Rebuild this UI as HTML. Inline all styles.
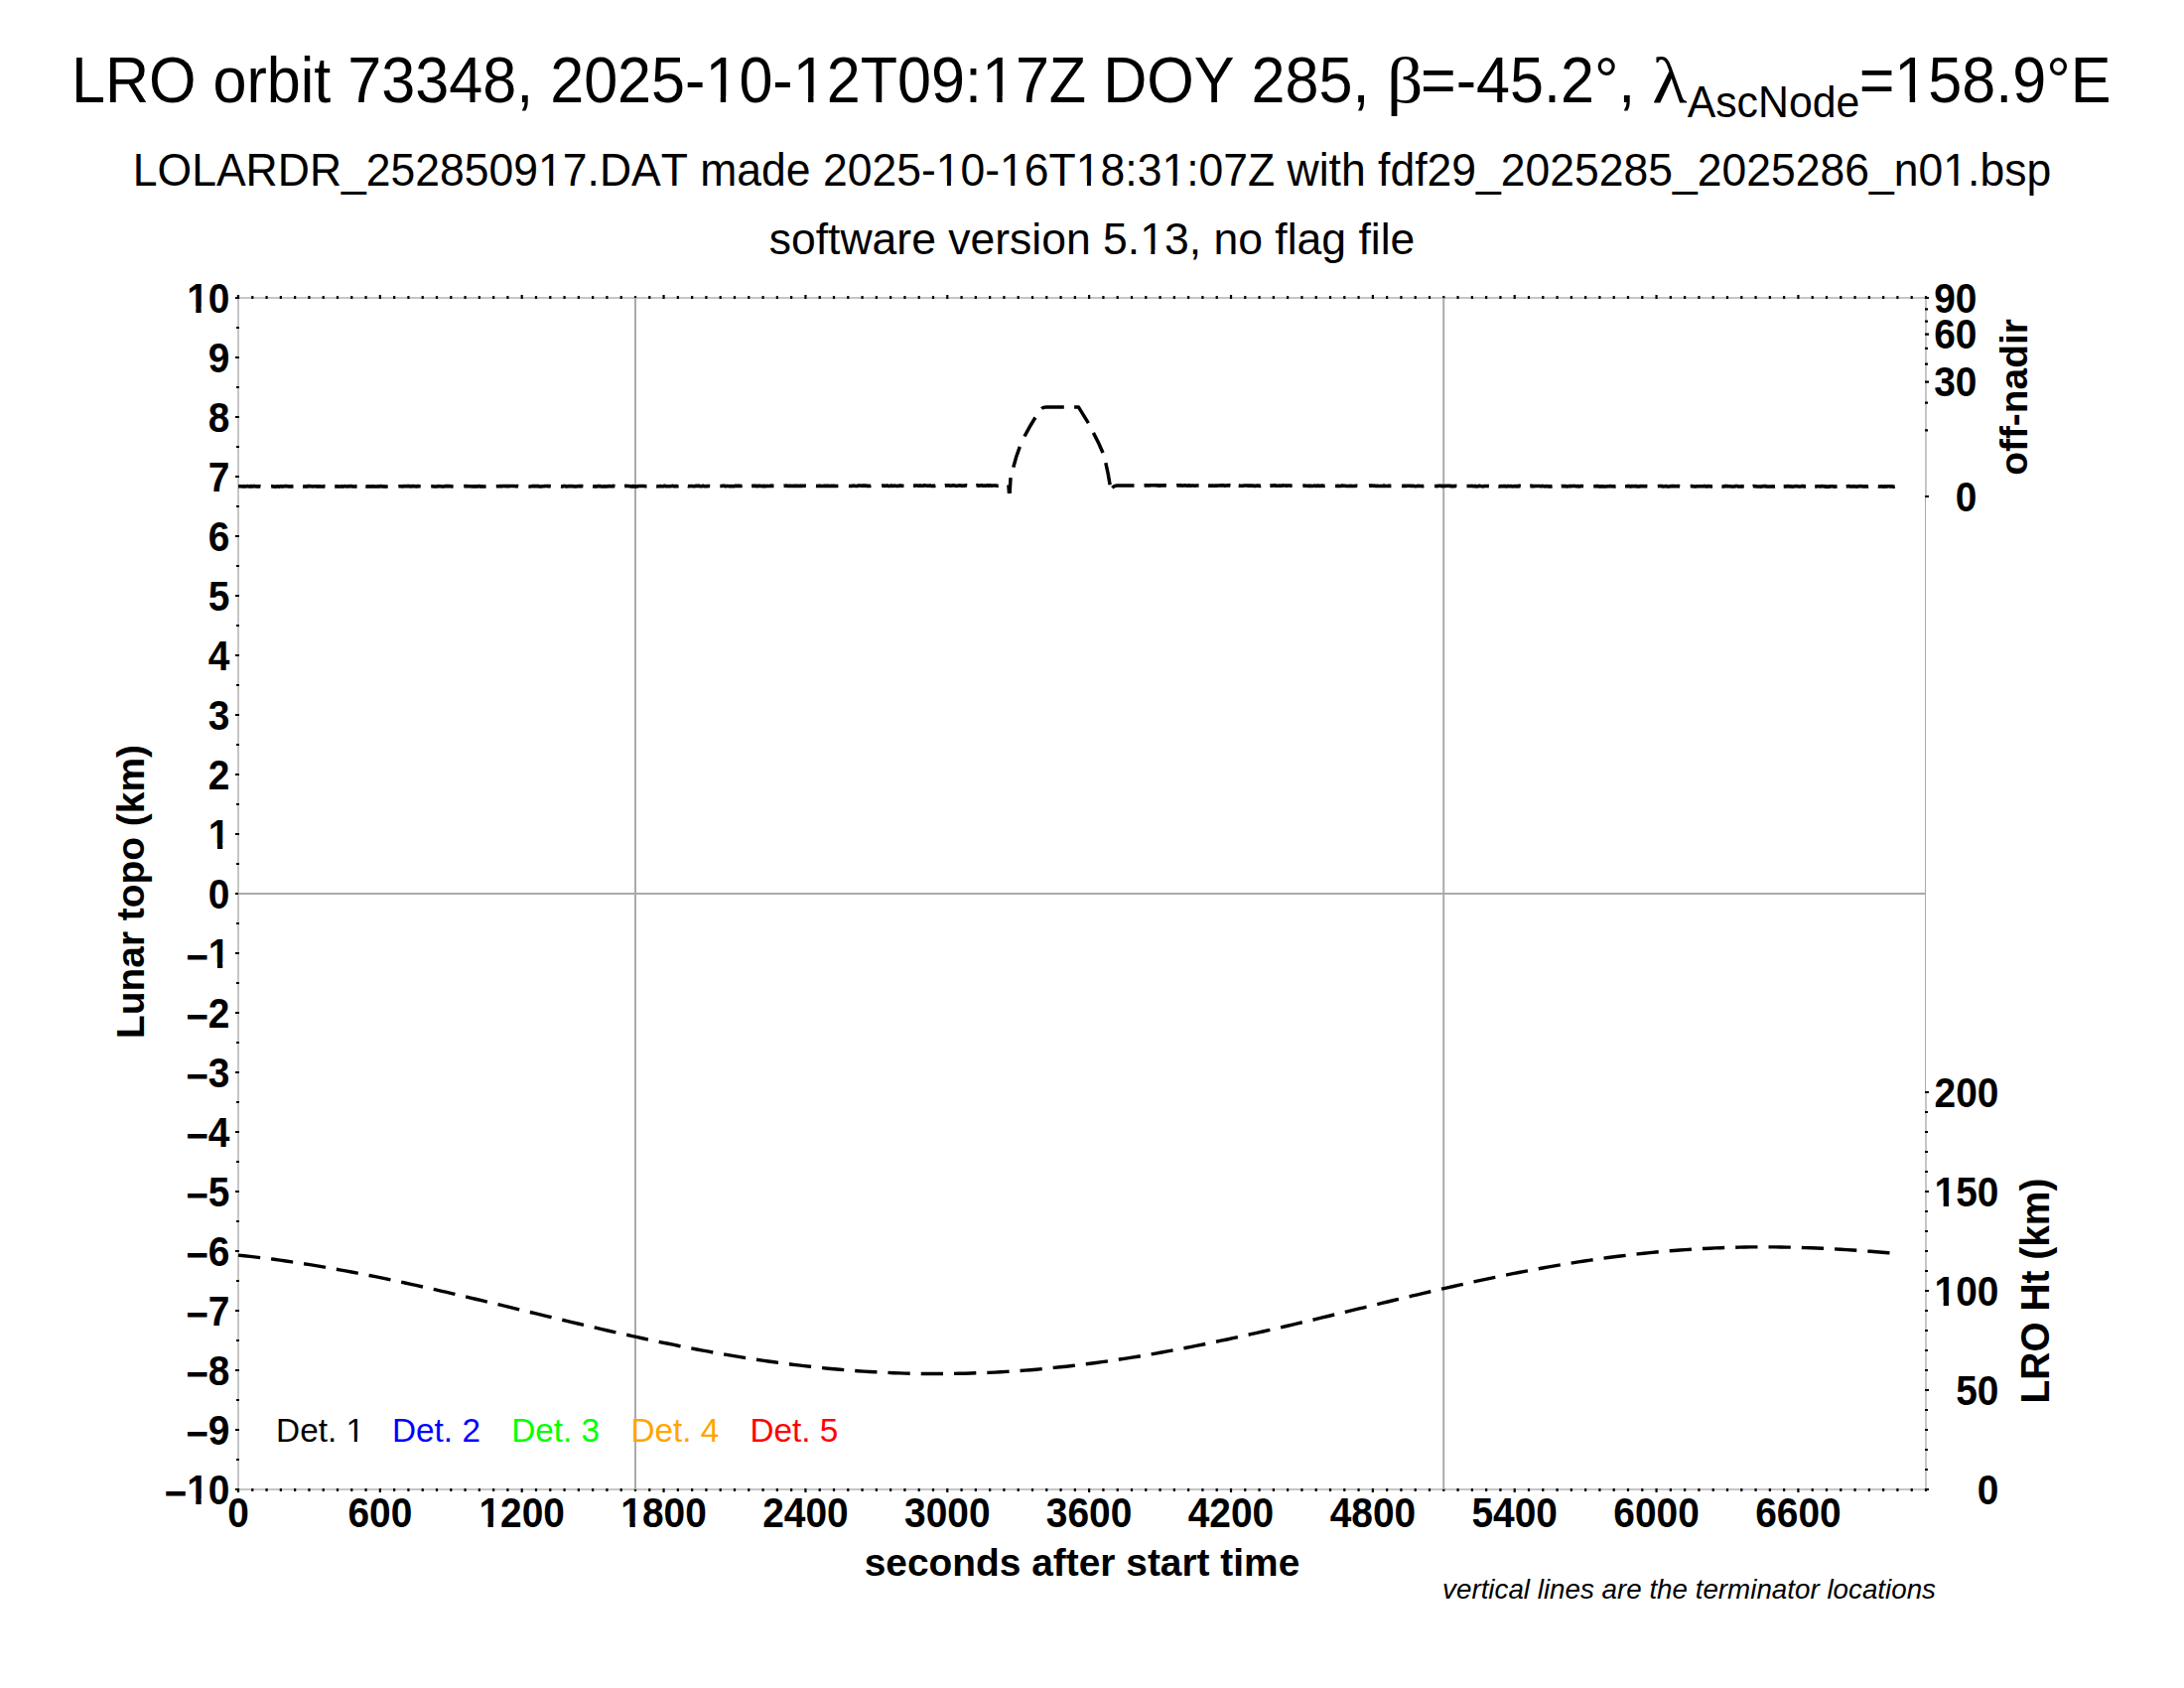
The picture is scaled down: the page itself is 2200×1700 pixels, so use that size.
<!DOCTYPE html>
<html lang="en"><head><meta charset="utf-8"><title>LRO orbit 73348</title>
<style>html,body{margin:0;padding:0;background:#fff;width:2200px;height:1700px;overflow:hidden}svg{display:block}text{font-family:"Liberation Sans",sans-serif;fill:#000;font-kerning:none;font-variant-ligatures:none}.b{font-weight:700;font-size:38.89px}.sym{font-family:"Liberation Serif","DejaVu Serif",serif}</style></head><body>
<svg width="2200" height="1700" viewBox="0 0 2200 1700">
<rect width="2200" height="1700" fill="#fff"/>
<g id="titles">
<g transform="translate(0 103) scale(1 1.05)" font-size="61.11">
<text x="71.9" y="0" xml:space="preserve">LRO orbit 73348, 2025-10-12T09:17Z DOY 285, </text>
<text class="sym" transform="translate(1397 0) scale(1.10 0.9524)" font-size="65">β</text>
<text x="1431" y="0" xml:space="preserve">=-45.2°, </text>
<text class="sym" transform="translate(1664.3 0) scale(1.10 0.9524)" font-size="66">λ</text>
<text x="1699.7" y="14.29" font-size="42.78">AscNode</text>
<text x="1872.7" y="0">=158.9°E</text>
</g>
<text transform="translate(1100 187.2) scale(1 1.045)" font-size="44.51" text-anchor="middle">LOLARDR_252850917.DAT made 2025-10-16T18:31:07Z with fdf29_2025285_2025286_n01.bsp</text>
<text x="1100" y="256" font-size="44.5" text-anchor="middle">software version 5.13, no flag file</text>
</g>
<g id="frame" stroke="#c6c6c6" stroke-width="2" fill="none">
<path d="M1941 300H240V1500H1941"/>
<line x1="1940" y1="300" x2="1940" y2="500"/>
<line x1="1940" y1="1100" x2="1940" y2="1500"/>
</g>
<line x1="1939.5" y1="500" x2="1939.5" y2="1100" stroke="#aaaaaa" stroke-width="1"/>
<path id="ticks" d="M240.00 1499V1503.0M240.00 301V297.0M254.29 1499V1502.0M254.29 301V298.0M268.57 1499V1502.0M268.57 301V298.0M282.86 1499V1502.0M282.86 301V298.0M297.14 1499V1502.0M297.14 301V298.0M311.43 1499V1502.0M311.43 301V298.0M325.71 1499V1502.0M325.71 301V298.0M340.00 1499V1502.0M340.00 301V298.0M354.29 1499V1502.0M354.29 301V298.0M368.57 1499V1502.0M368.57 301V298.0M382.86 1499V1503.0M382.86 301V297.0M397.14 1499V1502.0M397.14 301V298.0M411.43 1499V1502.0M411.43 301V298.0M425.71 1499V1502.0M425.71 301V298.0M440.00 1499V1502.0M440.00 301V298.0M454.29 1499V1502.0M454.29 301V298.0M468.57 1499V1502.0M468.57 301V298.0M482.86 1499V1502.0M482.86 301V298.0M497.14 1499V1502.0M497.14 301V298.0M511.43 1499V1502.0M511.43 301V298.0M525.71 1499V1503.0M525.71 301V297.0M540.00 1499V1502.0M540.00 301V298.0M554.29 1499V1502.0M554.29 301V298.0M568.57 1499V1502.0M568.57 301V298.0M582.86 1499V1502.0M582.86 301V298.0M597.14 1499V1502.0M597.14 301V298.0M611.43 1499V1502.0M611.43 301V298.0M625.71 1499V1502.0M625.71 301V298.0M640.00 1499V1502.0M640.00 301V298.0M654.29 1499V1502.0M654.29 301V298.0M668.57 1499V1503.0M668.57 301V297.0M682.86 1499V1502.0M682.86 301V298.0M697.14 1499V1502.0M697.14 301V298.0M711.43 1499V1502.0M711.43 301V298.0M725.71 1499V1502.0M725.71 301V298.0M740.00 1499V1502.0M740.00 301V298.0M754.29 1499V1502.0M754.29 301V298.0M768.57 1499V1502.0M768.57 301V298.0M782.86 1499V1502.0M782.86 301V298.0M797.14 1499V1502.0M797.14 301V298.0M811.43 1499V1503.0M811.43 301V297.0M825.71 1499V1502.0M825.71 301V298.0M840.00 1499V1502.0M840.00 301V298.0M854.29 1499V1502.0M854.29 301V298.0M868.57 1499V1502.0M868.57 301V298.0M882.86 1499V1502.0M882.86 301V298.0M897.14 1499V1502.0M897.14 301V298.0M911.43 1499V1502.0M911.43 301V298.0M925.71 1499V1502.0M925.71 301V298.0M940.00 1499V1502.0M940.00 301V298.0M954.29 1499V1503.0M954.29 301V297.0M968.57 1499V1502.0M968.57 301V298.0M982.86 1499V1502.0M982.86 301V298.0M997.14 1499V1502.0M997.14 301V298.0M1011.43 1499V1502.0M1011.43 301V298.0M1025.71 1499V1502.0M1025.71 301V298.0M1040.00 1499V1502.0M1040.00 301V298.0M1054.29 1499V1502.0M1054.29 301V298.0M1068.57 1499V1502.0M1068.57 301V298.0M1082.86 1499V1502.0M1082.86 301V298.0M1097.14 1499V1503.0M1097.14 301V297.0M1111.43 1499V1502.0M1111.43 301V298.0M1125.71 1499V1502.0M1125.71 301V298.0M1140.00 1499V1502.0M1140.00 301V298.0M1154.29 1499V1502.0M1154.29 301V298.0M1168.57 1499V1502.0M1168.57 301V298.0M1182.86 1499V1502.0M1182.86 301V298.0M1197.14 1499V1502.0M1197.14 301V298.0M1211.43 1499V1502.0M1211.43 301V298.0M1225.71 1499V1502.0M1225.71 301V298.0M1240.00 1499V1503.0M1240.00 301V297.0M1254.29 1499V1502.0M1254.29 301V298.0M1268.57 1499V1502.0M1268.57 301V298.0M1282.86 1499V1502.0M1282.86 301V298.0M1297.14 1499V1502.0M1297.14 301V298.0M1311.43 1499V1502.0M1311.43 301V298.0M1325.71 1499V1502.0M1325.71 301V298.0M1340.00 1499V1502.0M1340.00 301V298.0M1354.29 1499V1502.0M1354.29 301V298.0M1368.57 1499V1502.0M1368.57 301V298.0M1382.86 1499V1503.0M1382.86 301V297.0M1397.14 1499V1502.0M1397.14 301V298.0M1411.43 1499V1502.0M1411.43 301V298.0M1425.71 1499V1502.0M1425.71 301V298.0M1440.00 1499V1502.0M1440.00 301V298.0M1454.29 1499V1502.0M1454.29 301V298.0M1468.57 1499V1502.0M1468.57 301V298.0M1482.86 1499V1502.0M1482.86 301V298.0M1497.14 1499V1502.0M1497.14 301V298.0M1511.43 1499V1502.0M1511.43 301V298.0M1525.71 1499V1503.0M1525.71 301V297.0M1540.00 1499V1502.0M1540.00 301V298.0M1554.29 1499V1502.0M1554.29 301V298.0M1568.57 1499V1502.0M1568.57 301V298.0M1582.86 1499V1502.0M1582.86 301V298.0M1597.14 1499V1502.0M1597.14 301V298.0M1611.43 1499V1502.0M1611.43 301V298.0M1625.71 1499V1502.0M1625.71 301V298.0M1640.00 1499V1502.0M1640.00 301V298.0M1654.29 1499V1502.0M1654.29 301V298.0M1668.57 1499V1503.0M1668.57 301V297.0M1682.86 1499V1502.0M1682.86 301V298.0M1697.14 1499V1502.0M1697.14 301V298.0M1711.43 1499V1502.0M1711.43 301V298.0M1725.71 1499V1502.0M1725.71 301V298.0M1740.00 1499V1502.0M1740.00 301V298.0M1754.29 1499V1502.0M1754.29 301V298.0M1768.57 1499V1502.0M1768.57 301V298.0M1782.86 1499V1502.0M1782.86 301V298.0M1797.14 1499V1502.0M1797.14 301V298.0M1811.43 1499V1503.0M1811.43 301V297.0M1825.71 1499V1502.0M1825.71 301V298.0M1840.00 1499V1502.0M1840.00 301V298.0M1854.29 1499V1502.0M1854.29 301V298.0M1868.57 1499V1502.0M1868.57 301V298.0M1882.86 1499V1502.0M1882.86 301V298.0M1897.14 1499V1502.0M1897.14 301V298.0M1911.43 1499V1502.0M1911.43 301V298.0M1925.71 1499V1502.0M1925.71 301V298.0M1940.00 1499V1502.0M1940.00 301V298.0M241 300H237.00M241 330H238.00M241 360H237.00M241 390H238.00M241 420H237.00M241 450H238.00M241 480H237.00M241 510H238.00M241 540H237.00M241 570H238.00M241 600H237.00M241 630H238.00M241 660H237.00M241 690H238.00M241 720H237.00M241 750H238.00M241 780H237.00M241 810H238.00M241 840H237.00M241 870H238.00M241 900H237.00M241 930H238.00M241 960H237.00M241 990H238.00M241 1020H237.00M241 1050H238.00M241 1080H237.00M241 1110H238.00M241 1140H237.00M241 1170H238.00M241 1200H237.00M241 1230H238.00M241 1260H237.00M241 1290H238.00M241 1320H237.00M241 1350H238.00M241 1380H237.00M241 1410H238.00M241 1440H237.00M241 1470H238.00M241 1500H237.00M1939 1500H1943.0M1939 1480H1942.0M1939 1460H1942.0M1939 1440H1942.0M1939 1420H1942.0M1939 1400H1943.0M1939 1380H1942.0M1939 1360H1942.0M1939 1340H1942.0M1939 1320H1942.0M1939 1300H1943.0M1939 1280H1942.0M1939 1260H1942.0M1939 1240H1942.0M1939 1220H1942.0M1939 1200H1943.0M1939 1180H1942.0M1939 1160H1942.0M1939 1140H1942.0M1939 1120H1942.0M1939 1100H1943.0M1939 500.00H1943.0M1939 433.33H1942.0M1939 405.72H1942.0M1939 384.53H1943.0M1939 366.67H1942.0M1939 350.93H1942.0M1939 336.70H1943.0M1939 323.62H1942.0M1939 311.44H1942.0M1939 300.00H1943.0" stroke="#000" stroke-width="2.2" fill="none"/>
<g id="grid" stroke="#aaaaaa" stroke-width="2" fill="none">
<line x1="640" y1="300" x2="640" y2="1500"/>
<line x1="1454.2" y1="300" x2="1454.2" y2="1500"/>
<line x1="240" y1="900" x2="1940" y2="900"/>
</g>
<g id="ylabels" class="b" text-anchor="end">
<text transform="translate(231.5 314.6) scale(1 1.08)">10</text>
<text transform="translate(231.5 374.6) scale(1 1.08)">9</text>
<text transform="translate(231.5 434.6) scale(1 1.08)">8</text>
<text transform="translate(231.5 494.6) scale(1 1.08)">7</text>
<text transform="translate(231.5 554.6) scale(1 1.08)">6</text>
<text transform="translate(231.5 614.6) scale(1 1.08)">5</text>
<text transform="translate(231.5 674.6) scale(1 1.08)">4</text>
<text transform="translate(231.5 734.6) scale(1 1.08)">3</text>
<text transform="translate(231.5 794.6) scale(1 1.08)">2</text>
<text transform="translate(231.5 854.6) scale(1 1.08)">1</text>
<text transform="translate(231.5 914.6) scale(1 1.08)">0</text>
<text transform="translate(231.5 974.6) scale(1 1.08)"><tspan dy="3.2">−</tspan><tspan dy="-3.2">1</tspan></text>
<text transform="translate(231.5 1034.6) scale(1 1.08)"><tspan dy="3.2">−</tspan><tspan dy="-3.2">2</tspan></text>
<text transform="translate(231.5 1094.6) scale(1 1.08)"><tspan dy="3.2">−</tspan><tspan dy="-3.2">3</tspan></text>
<text transform="translate(231.5 1154.6) scale(1 1.08)"><tspan dy="3.2">−</tspan><tspan dy="-3.2">4</tspan></text>
<text transform="translate(231.5 1214.6) scale(1 1.08)"><tspan dy="3.2">−</tspan><tspan dy="-3.2">5</tspan></text>
<text transform="translate(231.5 1274.6) scale(1 1.08)"><tspan dy="3.2">−</tspan><tspan dy="-3.2">6</tspan></text>
<text transform="translate(231.5 1334.6) scale(1 1.08)"><tspan dy="3.2">−</tspan><tspan dy="-3.2">7</tspan></text>
<text transform="translate(231.5 1394.6) scale(1 1.08)"><tspan dy="3.2">−</tspan><tspan dy="-3.2">8</tspan></text>
<text transform="translate(231.5 1454.6) scale(1 1.08)"><tspan dy="3.2">−</tspan><tspan dy="-3.2">9</tspan></text>
<text transform="translate(231.5 1514.6) scale(1 1.08)"><tspan dy="3.2">−</tspan><tspan dy="-3.2">10</tspan></text>
</g>
<g id="xlabels" class="b" text-anchor="middle">
<text transform="translate(240.0 1537.5) scale(1 1.08)">0</text>
<text transform="translate(382.9 1537.5) scale(1 1.08)">600</text>
<text transform="translate(525.7 1537.5) scale(1 1.08)">1200</text>
<text transform="translate(668.6 1537.5) scale(1 1.08)">1800</text>
<text transform="translate(811.4 1537.5) scale(1 1.08)">2400</text>
<text transform="translate(954.3 1537.5) scale(1 1.08)">3000</text>
<text transform="translate(1097.1 1537.5) scale(1 1.08)">3600</text>
<text transform="translate(1240.0 1537.5) scale(1 1.08)">4200</text>
<text transform="translate(1382.9 1537.5) scale(1 1.08)">4800</text>
<text transform="translate(1525.7 1537.5) scale(1 1.08)">5400</text>
<text transform="translate(1668.6 1537.5) scale(1 1.08)">6000</text>
<text transform="translate(1811.4 1537.5) scale(1 1.08)">6600</text>
</g>
<g id="rlabels" class="b" text-anchor="end">
<text transform="translate(2013.5 1514.6) scale(1 1.08)">0</text>
<text transform="translate(2013.5 1414.6) scale(1 1.08)">50</text>
<text transform="translate(2013.5 1314.6) scale(1 1.08)">100</text>
<text transform="translate(2013.5 1214.6) scale(1 1.08)">150</text>
<text transform="translate(2013.5 1114.6) scale(1 1.08)">200</text>
<text transform="translate(1991.5 514.6) scale(1 1.08)">0</text>
<text transform="translate(1991.5 399.1) scale(1 1.08)">30</text>
<text transform="translate(1991.5 351.3) scale(1 1.08)">60</text>
<text transform="translate(1991.5 314.6) scale(1 1.08)">90</text>
</g>
<g id="axlabels" class="b" text-anchor="middle">
<text x="1090" y="1587.4">seconds after start time</text>
<text transform="translate(145 898) rotate(-90)">Lunar topo (km)</text>
<text transform="translate(2064.2 1300) rotate(-90) scale(1 1.05)">LRO Ht (km)</text>
<text transform="translate(2042 400) rotate(-90)">off-nadir</text>
</g>
<text x="1950" y="1609.8" font-size="27.78" font-style="italic" text-anchor="end">vertical lines are the terminator locations</text>
<g id="legend" font-size="33.33">
<text x="278.1" y="1452.3" style="fill:#000000">Det. 1</text>
<text x="395.0" y="1452.3" style="fill:#0000ff">Det. 2</text>
<text x="515.2" y="1452.3" style="fill:#00ff00">Det. 3</text>
<text x="635.4" y="1452.3" style="fill:#ffa500">Det. 4</text>
<text x="755.4" y="1452.3" style="fill:#ff0000">Det. 5</text>
</g>
<path id="ht" d="M240.0 1264.1 L246.0 1264.7 L252.0 1265.4 L258.0 1266.1 L264.0 1266.8 L270.0 1267.5 L276.0 1268.3 L282.0 1269.1 L288.0 1270.0 L294.0 1270.9 L300.0 1271.8 L306.0 1272.7 L312.0 1273.6 L318.0 1274.6 L324.0 1275.6 L330.0 1276.7 L336.0 1277.7 L342.0 1278.8 L348.0 1279.9 L354.0 1281.0 L360.0 1282.2 L366.0 1283.3 L372.0 1284.5 L378.0 1285.7 L384.0 1286.9 L390.0 1288.2 L396.0 1289.4 L402.0 1290.7 L408.0 1292.0 L414.0 1293.3 L420.0 1294.6 L426.0 1296.0 L432.0 1297.3 L438.0 1298.7 L444.0 1300.1 L450.0 1301.4 L456.0 1302.8 L462.0 1304.2 L468.0 1305.6 L474.0 1307.1 L480.0 1308.5 L486.0 1309.9 L492.0 1311.4 L498.0 1312.8 L504.0 1314.2 L510.0 1315.7 L516.0 1317.1 L522.0 1318.6 L528.0 1320.0 L534.0 1321.5 L540.0 1322.9 L546.0 1324.4 L552.0 1325.8 L558.0 1327.3 L564.0 1328.7 L570.0 1330.1 L576.0 1331.6 L582.0 1333.0 L588.0 1334.4 L594.0 1335.8 L600.0 1337.2 L606.0 1338.6 L612.0 1340.0 L618.0 1341.3 L624.0 1342.7 L630.0 1344.0 L636.0 1345.3 L642.0 1346.7 L648.0 1348.0 L654.0 1349.3 L660.0 1350.5 L666.0 1351.8 L672.0 1353.0 L678.0 1354.2 L684.0 1355.5 L690.0 1356.6 L696.0 1357.8 L702.0 1359.0 L708.0 1360.1 L714.0 1361.2 L720.0 1362.3 L726.0 1363.3 L732.0 1364.4 L738.0 1365.4 L744.0 1366.4 L750.0 1367.4 L756.0 1368.3 L762.0 1369.2 L768.0 1370.1 L774.0 1371.0 L780.0 1371.8 L786.0 1372.6 L792.0 1373.4 L798.0 1374.2 L804.0 1374.9 L810.0 1375.6 L816.0 1376.3 L822.0 1377.0 L828.0 1377.6 L834.0 1378.2 L840.0 1378.7 L846.0 1379.3 L852.0 1379.8 L858.0 1380.2 L864.0 1380.7 L870.0 1381.1 L876.0 1381.5 L882.0 1381.8 L888.0 1382.1 L894.0 1382.4 L900.0 1382.7 L906.0 1382.9 L912.0 1383.1 L918.0 1383.2 L924.0 1383.4 L930.0 1383.5 L936.0 1383.5 L942.0 1383.5 L948.0 1383.5 L954.0 1383.5 L960.0 1383.4 L966.0 1383.3 L972.0 1383.2 L978.0 1383.0 L984.0 1382.8 L990.0 1382.6 L996.0 1382.4 L1002.0 1382.1 L1008.0 1381.7 L1014.0 1381.4 L1020.0 1381.0 L1026.0 1380.6 L1032.0 1380.1 L1038.0 1379.7 L1044.0 1379.2 L1050.0 1378.6 L1056.0 1378.0 L1062.0 1377.4 L1068.0 1376.8 L1074.0 1376.2 L1080.0 1375.5 L1086.0 1374.8 L1092.0 1374.0 L1098.0 1373.3 L1104.0 1372.5 L1110.0 1371.6 L1116.0 1370.8 L1122.0 1369.9 L1128.0 1369.0 L1134.0 1368.1 L1140.0 1367.1 L1146.0 1366.2 L1152.0 1365.2 L1158.0 1364.1 L1164.0 1363.1 L1170.0 1362.0 L1176.0 1360.9 L1182.0 1359.8 L1188.0 1358.7 L1194.0 1357.5 L1200.0 1356.4 L1206.0 1355.2 L1212.0 1354.0 L1218.0 1352.7 L1224.0 1351.5 L1230.0 1350.2 L1236.0 1349.0 L1242.0 1347.7 L1248.0 1346.4 L1254.0 1345.0 L1260.0 1343.7 L1266.0 1342.4 L1272.0 1341.0 L1278.0 1339.6 L1284.0 1338.3 L1290.0 1336.9 L1296.0 1335.5 L1302.0 1334.1 L1308.0 1332.6 L1314.0 1331.2 L1320.0 1329.8 L1326.0 1328.4 L1332.0 1326.9 L1338.0 1325.5 L1344.0 1324.0 L1350.0 1322.6 L1356.0 1321.1 L1362.0 1319.7 L1368.0 1318.2 L1374.0 1316.8 L1380.0 1315.3 L1386.0 1313.9 L1392.0 1312.4 L1398.0 1311.0 L1404.0 1309.5 L1410.0 1308.1 L1416.0 1306.7 L1422.0 1305.2 L1428.0 1303.8 L1434.0 1302.4 L1440.0 1301.0 L1446.0 1299.6 L1452.0 1298.2 L1458.0 1296.9 L1464.0 1295.5 L1470.0 1294.2 L1476.0 1292.8 L1482.0 1291.5 L1488.0 1290.2 L1494.0 1288.9 L1500.0 1287.6 L1506.0 1286.4 L1512.0 1285.2 L1518.0 1283.9 L1524.0 1282.7 L1530.0 1281.5 L1536.0 1280.4 L1542.0 1279.2 L1548.0 1278.1 L1554.0 1277.0 L1560.0 1275.9 L1566.0 1274.9 L1572.0 1273.9 L1578.0 1272.9 L1584.0 1271.9 L1590.0 1270.9 L1596.0 1270.0 L1602.0 1269.1 L1608.0 1268.2 L1614.0 1267.4 L1620.0 1266.5 L1626.0 1265.8 L1632.0 1265.0 L1638.0 1264.3 L1644.0 1263.5 L1650.0 1262.9 L1656.0 1262.2 L1662.0 1261.6 L1668.0 1261.0 L1674.0 1260.5 L1680.0 1259.9 L1686.0 1259.5 L1692.0 1259.0 L1698.0 1258.6 L1704.0 1258.2 L1710.0 1257.8 L1716.0 1257.5 L1722.0 1257.2 L1728.0 1256.9 L1734.0 1256.7 L1740.0 1256.4 L1746.0 1256.3 L1752.0 1256.1 L1758.0 1256.0 L1764.0 1255.9 L1770.0 1255.9 L1776.0 1255.9 L1782.0 1255.9 L1788.0 1255.9 L1794.0 1256.0 L1800.0 1256.1 L1806.0 1256.2 L1812.0 1256.4 L1818.0 1256.6 L1824.0 1256.8 L1830.0 1257.0 L1836.0 1257.3 L1842.0 1257.6 L1848.0 1257.9 L1854.0 1258.3 L1860.0 1258.6 L1866.0 1259.0 L1872.0 1259.4 L1878.0 1259.9 L1884.0 1260.3 L1890.0 1260.8 L1896.0 1261.3 L1902.0 1261.8 L1906.0 1262.1" stroke="#000" stroke-width="3.4" fill="none" stroke-dasharray="22.3 11.0" stroke-linejoin="round"/>
<path id="offnadir-flat" d="M240.1 489.90L241.5 489.80L242.9 489.70L244.3 489.98L245.7 489.66L247.1 489.92L248.5 489.82L249.9 489.65L251.3 489.90L252.7 489.63L254.1 489.86L255.5 489.65L256.9 489.66L258.3 489.85L259.7 490.07L261.1 489.68L262.5 489.89M273.1 489.88L274.5 489.73L275.9 489.95L277.3 490.13L278.7 489.92L280.1 489.82L281.5 490.14L282.9 489.62L284.3 490.08L285.7 489.76L287.1 489.67L288.5 489.66L289.9 489.77L291.3 490.05L292.7 489.69L294.1 489.92L295.5 489.87M305.1 489.86L306.5 489.94L307.9 489.79L309.3 489.89L310.7 489.62L312.1 489.61L313.5 489.69L314.9 489.96L316.3 489.82L317.7 489.75L319.1 489.90L320.5 489.83L321.9 489.74L323.3 490.02L324.7 489.96L326.1 489.71L327.5 489.85M337.2 489.85L338.6 489.89L340.0 489.86L341.4 490.05L342.8 489.97L344.2 489.72L345.6 490.11L347.0 489.63L348.4 489.79L349.8 489.98L351.2 489.64L352.6 489.83L354.0 489.58L355.4 489.93L356.8 489.98L358.2 489.88L359.6 489.83M368.3 489.83L369.7 490.04L371.1 489.72L372.5 489.94L373.9 489.88L375.3 489.87L376.7 489.80L378.1 490.01L379.5 490.07L380.9 489.81L382.3 489.91L383.7 489.57L385.1 489.93L386.5 489.90L387.9 490.09L389.3 490.00L390.7 489.82M401.3 489.81L402.7 489.69L404.1 489.74L405.5 489.90L406.9 489.54L408.3 489.79L409.7 489.62L411.1 489.59L412.5 489.56L413.9 489.95L415.3 489.60L416.7 489.66L418.1 489.74L419.5 490.01L420.9 489.56L422.3 489.77L423.7 489.80M434.2 489.79L435.6 489.82L437.0 490.01L438.4 489.97L439.8 489.99L441.2 489.66L442.6 489.74L444.0 489.71L445.4 490.00L446.8 490.04L448.2 489.59L449.6 489.60L451.0 489.63L452.4 489.63L453.8 489.77L455.2 489.83L456.6 489.78M467.2 489.77L468.6 489.64L470.0 489.49L471.4 489.73L472.8 489.70L474.2 489.81L475.6 490.02L477.0 489.88L478.4 489.78L479.8 489.83L481.2 489.86L482.6 489.52L484.0 489.99L485.4 489.92L486.8 489.97L488.2 489.93L489.6 489.76M499.8 489.76L501.2 489.69L502.6 489.70L504.0 489.53L505.4 489.83L506.8 489.51L508.2 489.51L509.6 489.59L511.0 489.56L512.4 489.66L513.8 489.50L515.2 489.47L516.6 489.55L518.0 489.52L519.4 489.67L520.8 489.48L522.2 489.74M532.4 489.74L533.8 489.95L535.2 489.80L536.6 489.54L538.0 489.60L539.4 489.65L540.8 489.66L542.2 489.52L543.6 489.93L545.0 490.01L546.4 489.71L547.8 489.72L549.2 489.50L550.6 489.50L552.0 489.64L553.4 489.59L554.8 489.73M565.0 489.72L566.4 489.90L567.8 489.53L569.2 489.45L570.6 489.97L572.0 489.73L573.4 489.52L574.8 489.74L576.2 489.45L577.6 489.73L579.0 489.98L580.4 489.91L581.8 489.82L583.2 489.58L584.6 489.63L586.0 489.52L587.4 489.71M597.1 489.70L598.5 489.85L599.9 489.72L601.3 489.85L602.7 489.60L604.1 489.54L605.5 489.87L606.9 489.96L608.3 489.88L609.7 489.86L611.1 489.86L612.5 489.81L613.9 489.52L615.3 489.69L616.7 489.59L618.1 489.41L619.5 489.67M629.1 489.65L630.5 489.39L631.9 489.52L633.3 489.51L634.7 489.75L636.1 489.90L637.5 489.61L638.9 489.88L640.3 489.91L641.7 489.89L643.1 489.55L644.5 489.47L645.9 489.47L647.3 489.45L648.7 489.46L650.1 489.69L651.5 489.62M661.2 489.60L662.6 489.82L664.0 489.79L665.4 489.58L666.8 489.68L668.2 489.76L669.6 489.35L671.0 489.68L672.4 489.81L673.8 489.74L675.2 489.72L676.6 489.56L678.0 489.39L679.4 489.73L680.8 489.48L682.2 489.74L683.6 489.56M692.8 489.55L694.2 489.81L695.6 489.49L697.0 489.49L698.4 489.79L699.8 489.66L701.2 489.35L702.6 489.33L704.0 489.34L705.4 489.76L706.8 489.70L708.2 489.33L709.6 489.71L711.0 489.79L712.4 489.61L713.8 489.43L715.2 489.51M725.3 489.50L726.7 489.52L728.1 489.29L729.5 489.22L730.9 489.75L732.3 489.57L733.7 489.50L735.1 489.72L736.5 489.44L737.9 489.69L739.3 489.66L740.7 489.31L742.1 489.33L743.5 489.35L744.9 489.32L746.3 489.51L747.7 489.46M757.1 489.45L758.5 489.31L759.9 489.40L761.3 489.23L762.7 489.67L764.1 489.35L765.5 489.41L766.9 489.48L768.3 489.65L769.7 489.38L771.1 489.66L772.5 489.42L773.9 489.44L775.3 489.43L776.7 489.14L778.1 489.38L779.5 489.41M789.5 489.39L790.9 489.21L792.3 489.11L793.7 489.55L795.1 489.20L796.5 489.37L797.9 489.51L799.3 489.41L800.7 489.28L802.1 489.38L803.5 489.40L804.9 489.53L806.3 489.15L807.7 489.40L809.1 489.22L810.5 489.23L811.9 489.36M822.0 489.34L823.4 489.49L824.8 489.34L826.2 489.37L827.6 489.48L829.0 489.56L830.4 489.30L831.8 489.39L833.2 489.33L834.6 489.33L836.0 489.43L837.4 489.29L838.8 489.33L840.2 489.30L841.6 489.56L843.0 489.42L844.4 489.30M855.0 489.29L856.4 489.50L857.8 489.53L859.2 489.15L860.6 489.31L862.0 489.52L863.4 489.46L864.8 489.07L866.2 489.06L867.6 489.23L869.0 489.03L870.4 489.12L871.8 489.02L873.2 489.35L874.6 489.41L876.0 489.48L877.4 489.25M888.1 489.23L889.5 489.04L890.9 489.35L892.3 489.32L893.7 489.02L895.1 489.44L896.5 489.48L897.9 489.06L899.3 489.47L900.7 489.16L902.1 489.20L903.5 489.48L904.9 489.39L906.3 489.01L907.7 489.16L909.1 489.21L910.5 489.20M920.0 489.18L921.4 489.09L922.8 489.01L924.2 489.07L925.6 489.30L927.0 488.90L928.4 489.20L929.8 489.13L931.2 488.89L932.6 489.07L934.0 489.23L935.4 489.16L936.8 488.91L938.2 489.42L939.6 489.31L941.0 489.41L942.4 489.14M951.8 489.13L953.2 488.90L954.6 488.99L956.0 488.86L957.4 489.27L958.8 488.98L960.2 488.90L961.6 489.06L963.0 489.33L964.4 489.28L965.8 488.96L967.2 488.90L968.6 489.33L970.0 489.13L971.4 489.20L972.8 488.85L974.2 489.08M983.3 489.06L984.7 488.81L986.1 489.16L987.5 489.01L988.9 488.81L990.3 489.29L991.7 489.12L993.1 489.21L994.5 488.80L995.9 489.23L997.3 488.79L998.7 489.23L1000.1 489.00L1001.5 488.93L1002.9 489.05L1004.3 489.25L1005.7 489.01M1152.5 488.97L1153.9 488.84L1155.3 488.76L1156.7 488.99L1158.1 488.83L1159.5 488.75L1160.9 488.78L1162.3 488.72L1163.7 488.81L1165.1 488.87L1166.5 488.87L1167.9 489.12L1169.3 488.86L1170.7 488.98L1172.1 488.80L1173.5 488.90L1174.9 488.98M1185.2 488.99L1186.6 488.72L1188.0 488.85L1189.4 488.72L1190.8 489.12L1192.2 489.02L1193.6 488.82L1195.0 488.98L1196.4 489.24L1197.8 488.78L1199.2 489.18L1200.6 488.96L1202.0 489.00L1203.4 489.19L1204.8 488.95L1206.2 489.02L1207.6 489.02M1217.1 489.03L1218.5 489.14L1219.9 489.31L1221.3 488.95L1222.7 489.23L1224.1 489.16L1225.5 489.13L1226.9 489.00L1228.3 488.97L1229.7 488.81L1231.1 488.85L1232.5 488.82L1233.9 489.20L1235.3 488.93L1236.7 488.88L1238.1 488.84L1239.5 489.08M1247.7 489.10L1249.1 489.29L1250.5 489.31L1251.9 489.20L1253.3 488.98L1254.7 488.97L1256.1 489.00L1257.5 489.09L1258.9 488.93L1260.3 489.09L1261.7 488.99L1263.1 489.38L1264.5 489.39L1265.9 489.16L1267.3 488.99L1268.7 489.40L1270.1 489.14M1279.3 489.16L1280.7 489.05L1282.1 489.08L1283.5 488.89L1284.9 489.10L1286.3 489.16L1287.7 489.18L1289.1 489.01L1290.5 489.18L1291.9 488.91L1293.3 489.05L1294.7 488.96L1296.1 489.14L1297.5 488.94L1298.9 488.93L1300.3 489.09L1301.7 489.20M1312.3 489.22L1313.7 489.08L1315.1 489.28L1316.5 489.25L1317.9 489.38L1319.3 489.33L1320.7 489.36L1322.1 489.46L1323.5 489.19L1324.9 489.15L1326.3 489.52L1327.7 489.06L1329.1 489.38L1330.5 489.34L1331.9 489.01L1333.3 489.45L1334.7 489.27M1345.0 489.29L1346.4 489.51L1347.8 489.37L1349.2 489.43L1350.6 489.48L1352.0 489.10L1353.4 489.32L1354.8 489.31L1356.2 489.50L1357.6 489.49L1359.0 489.50L1360.4 489.37L1361.8 489.54L1363.2 489.43L1364.6 489.44L1366.0 489.18L1367.4 489.33M1379.0 489.36L1380.4 489.10L1381.8 489.16L1383.2 489.29L1384.6 489.15L1386.0 489.56L1387.4 489.41L1388.8 489.45L1390.2 489.45L1391.6 489.48L1393.0 489.38L1394.4 489.11L1395.8 489.56L1397.2 489.53L1398.6 489.40L1400.0 489.42L1401.4 489.40M1412.0 489.42L1413.4 489.52L1414.8 489.19L1416.2 489.57L1417.6 489.30L1419.0 489.20L1420.4 489.31L1421.8 489.57L1423.2 489.28L1424.6 489.58L1426.0 489.72L1427.4 489.45L1428.8 489.39L1430.2 489.45L1431.6 489.57L1433.0 489.62L1434.4 489.47M1445.0 489.49L1446.4 489.56L1447.8 489.58L1449.2 489.26L1450.6 489.30L1452.0 489.37L1453.4 489.64L1454.8 489.40L1456.2 489.55L1457.6 489.24L1459.0 489.27L1460.4 489.39L1461.8 489.62L1463.2 489.63L1464.6 489.63L1466.0 489.41L1467.4 489.53M1477.5 489.56L1478.9 489.57L1480.3 489.54L1481.7 489.54L1483.1 489.35L1484.5 489.79L1485.9 489.40L1487.3 489.84L1488.7 489.82L1490.1 489.31L1491.5 489.56L1492.9 489.76L1494.3 489.85L1495.7 489.56L1497.1 489.46L1498.5 489.43L1499.9 489.60M1509.4 489.61L1510.8 489.86L1512.2 489.45L1513.6 489.66L1515.0 489.41L1516.4 489.63L1517.8 489.87L1519.2 489.41L1520.6 489.80L1522.0 489.62L1523.4 489.84L1524.8 489.73L1526.2 489.47L1527.6 489.85L1529.0 489.62L1530.4 489.36L1531.8 489.63M1541.2 489.63L1542.6 489.36L1544.0 489.63L1545.4 489.61L1546.8 489.53L1548.2 489.44L1549.6 489.55L1551.0 489.54L1552.4 489.83L1553.8 489.37L1555.2 489.79L1556.6 489.84L1558.0 489.44L1559.4 489.89L1560.8 489.77L1562.2 489.88L1563.6 489.65M1572.7 489.66L1574.1 489.54L1575.5 489.59L1576.9 489.60L1578.3 489.94L1579.7 489.72L1581.1 489.59L1582.5 489.63L1583.9 489.54L1585.3 489.42L1586.7 489.45L1588.1 489.86L1589.5 489.55L1590.9 489.92L1592.3 489.54L1593.7 489.55L1595.1 489.68M1605.2 489.69L1606.6 489.69L1608.0 489.52L1609.4 489.62L1610.8 489.95L1612.2 489.91L1613.6 489.87L1615.0 489.77L1616.4 489.93L1617.8 489.94L1619.2 489.73L1620.6 489.82L1622.0 489.45L1623.4 489.83L1624.8 489.68L1626.2 489.85L1627.6 489.71M1637.0 489.71L1638.4 489.80L1639.8 489.60L1641.2 489.47L1642.6 489.96L1644.0 489.51L1645.4 489.71L1646.8 489.63L1648.2 489.61L1649.6 489.86L1651.0 489.99L1652.4 489.59L1653.8 489.82L1655.2 489.62L1656.6 489.76L1658.0 489.67L1659.4 489.73M1669.8 489.74L1671.2 489.56L1672.6 489.55L1674.0 489.58L1675.4 489.97L1676.8 489.75L1678.2 489.59L1679.6 489.98L1681.0 490.03L1682.4 489.72L1683.8 489.55L1685.2 489.58L1686.6 489.53L1688.0 489.67L1689.4 489.53L1690.8 489.61L1692.2 489.76M1702.7 489.77L1704.1 489.63L1705.5 489.81L1706.9 489.99L1708.3 489.91L1709.7 489.73L1711.1 489.73L1712.5 489.79L1713.9 489.71L1715.3 489.69L1716.7 489.54L1718.1 489.66L1719.5 490.04L1720.9 489.57L1722.3 489.79L1723.7 489.86L1725.1 489.79M1734.4 489.80L1735.8 490.00L1737.2 489.64L1738.6 489.67L1740.0 489.66L1741.4 489.75L1742.8 489.77L1744.2 490.06L1745.6 490.00L1747.0 490.01L1748.4 489.54L1749.8 489.55L1751.2 489.93L1752.6 490.03L1754.0 489.80L1755.4 489.86L1756.8 489.81M1765.6 489.82L1767.0 489.54L1768.4 489.76L1769.8 490.06L1771.2 490.01L1772.6 490.03L1774.0 490.09L1775.4 489.69L1776.8 489.61L1778.2 489.64L1779.6 489.85L1781.0 489.94L1782.4 490.08L1783.8 489.96L1785.2 489.92L1786.6 489.99L1788.0 489.84M1796.7 489.85L1798.1 489.82L1799.5 489.88L1800.9 489.59L1802.3 490.01L1803.7 489.70L1805.1 490.09L1806.5 489.94L1807.9 489.75L1809.3 489.65L1810.7 489.72L1812.1 489.94L1813.5 489.97L1814.9 489.65L1816.3 489.62L1817.7 489.88L1819.1 489.87M1828.2 489.87L1829.6 489.92L1831.0 489.81L1832.4 489.72L1833.8 489.93L1835.2 489.61L1836.6 489.77L1838.0 489.86L1839.4 490.14L1840.8 489.96L1842.2 490.10L1843.6 489.87L1845.0 489.74L1846.4 489.75L1847.8 490.15L1849.2 490.01L1850.6 489.89M1859.7 489.90L1861.1 489.79L1862.5 489.63L1863.9 489.90L1865.3 490.00L1866.7 489.86L1868.1 489.76L1869.5 489.99L1870.9 490.14L1872.3 489.75L1873.7 489.64L1875.1 489.81L1876.5 489.86L1877.9 490.00L1879.3 489.73L1880.7 490.07L1882.1 489.90M1891.8 489.90L1893.2 490.03L1894.6 489.90L1896.0 489.73L1897.5 490.16L1898.9 489.79L1900.3 490.08L1901.7 489.75L1903.1 489.74L1904.5 490.05L1906.0 489.79L1907.4 490.15L1908.8 489.90" stroke="#000" stroke-width="3.6" fill="none" stroke-linejoin="round"/>
<path id="offnadir-bump" d="M1015.9 488.4L1016.5 496.9M1017.1 496.9L1018.0 481.2M1020.8 470.6Q1023.4 459.9 1027.3 449.8M1032 439.5Q1037.2 429.4 1042.9 420.5M1049.2 411.6Q1051 409.9 1054 409.9H1071.8M1082.1 410.1H1086.5L1096.4 426.1M1101.4 435.8Q1106.6 445.4 1111 456M1113.8 466.2Q1116.3 476.5 1118.1 488.3M1120.3 491.3Q1122.3 489.3 1125 489.1H1142.5" stroke="#000" stroke-width="3.5" fill="none" stroke-linejoin="round"/>
<g id="onefeet" fill="#fff"><rect x="714.05" y="97.31" width="11.71" height="6.29"/><rect x="731.17" y="97.31" width="11.23" height="6.29"/><rect x="802.37" y="97.31" width="11.71" height="6.29"/><rect x="819.48" y="97.31" width="11.23" height="6.29"/><rect x="992.57" y="97.31" width="11.71" height="6.29"/><rect x="1009.68" y="97.31" width="11.23" height="6.29"/><rect x="1912.03" y="97.31" width="11.71" height="6.29"/><rect x="1929.14" y="97.31" width="11.23" height="6.29"/><rect x="544.41" y="182.83" width="8.80" height="4.97"/><rect x="557.15" y="182.83" width="8.45" height="4.97"/><rect x="945.15" y="182.83" width="8.80" height="4.97"/><rect x="957.89" y="182.83" width="8.45" height="4.97"/><rect x="1009.47" y="182.83" width="8.80" height="4.97"/><rect x="1022.21" y="182.83" width="8.45" height="4.97"/><rect x="1086.17" y="182.83" width="8.80" height="4.97"/><rect x="1098.90" y="182.83" width="8.45" height="4.97"/><rect x="1172.79" y="182.83" width="8.80" height="4.97"/><rect x="1185.53" y="182.83" width="8.45" height="4.97"/><rect x="1959.70" y="182.83" width="8.80" height="4.97"/><rect x="1972.44" y="182.83" width="8.45" height="4.97"/><rect x="1150.58" y="251.78" width="8.80" height="4.82"/><rect x="1163.31" y="251.78" width="8.45" height="4.82"/><rect x="189.70" y="309.41" width="7.63" height="5.79"/><rect x="202.66" y="309.41" width="7.13" height="5.79"/><rect x="211.32" y="849.41" width="7.63" height="5.79"/><rect x="224.28" y="849.41" width="7.13" height="5.79"/><rect x="211.32" y="969.41" width="7.63" height="5.79"/><rect x="224.28" y="969.41" width="7.13" height="5.79"/><rect x="189.70" y="1509.41" width="7.63" height="5.79"/><rect x="202.66" y="1509.41" width="7.13" height="5.79"/><rect x="483.90" y="1532.31" width="7.63" height="5.79"/><rect x="496.86" y="1532.31" width="7.13" height="5.79"/><rect x="626.80" y="1532.31" width="7.63" height="5.79"/><rect x="639.76" y="1532.31" width="7.13" height="5.79"/><rect x="1950.06" y="1309.41" width="7.63" height="5.79"/><rect x="1963.03" y="1309.41" width="7.13" height="5.79"/><rect x="1950.06" y="1209.41" width="7.63" height="5.79"/><rect x="1963.03" y="1209.41" width="7.13" height="5.79"/><rect x="350.01" y="1448.91" width="6.84" height="3.99"/><rect x="359.80" y="1448.91" width="6.58" height="3.99"/></g>
</svg></body></html>
